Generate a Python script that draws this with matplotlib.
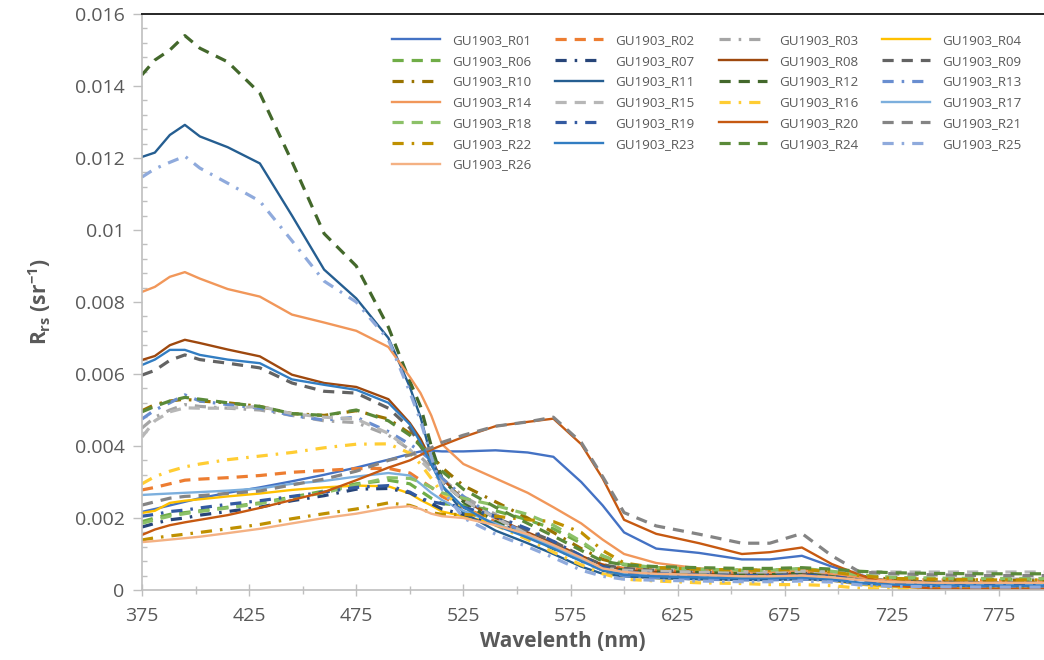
import numpy as np
import matplotlib
matplotlib.use("Agg")
from matplotlib import pyplot as plt
from matplotlib.ticker import FixedLocator, MultipleLocator, FuncFormatter

plt.rcParams['font.family'] = ['Open Sans', 'DejaVu Sans']
plt.rcParams['mathtext.fontset'] = 'custom'
plt.rcParams['mathtext.rm'] = 'Open Sans'
plt.rcParams['mathtext.bf'] = 'Open Sans:bold'

# wavelength grid (nm) and Rrs spectra in units of 1e-3 sr^-1
wl = [375, 381, 388, 395, 402, 415, 430, 445, 460, 475, 490, 500, 505, 510, 515, 525, 540,
      555, 567, 580, 590, 600, 615, 635, 655, 668, 683, 697, 710, 725, 745, 770, 796]

names = ['GU1903_R01', 'GU1903_R02', 'GU1903_R03', 'GU1903_R04', 'GU1903_R06',
         'GU1903_R07', 'GU1903_R08', 'GU1903_R09', 'GU1903_R10', 'GU1903_R11',
         'GU1903_R12', 'GU1903_R13', 'GU1903_R14', 'GU1903_R15', 'GU1903_R16',
         'GU1903_R17', 'GU1903_R18', 'GU1903_R19', 'GU1903_R20', 'GU1903_R21',
         'GU1903_R22', 'GU1903_R23', 'GU1903_R24', 'GU1903_R25', 'GU1903_R26']

r01 = [2.17, 2.25, 2.35, 2.45, 2.55, 2.70, 2.85, 3.02, 3.20, 3.40, 3.62, 3.78, 3.85, 3.87, 3.85, 3.85, 3.88,
       3.82, 3.70, 3.00, 2.35, 1.60, 1.15, 1.03, 0.85, 0.85, 0.95, 0.65, 0.42, 0.22, 0.20, 0.18, 0.18]
r02 = [2.78, 2.85, 2.95, 3.05, 3.08, 3.12, 3.18, 3.27, 3.32, 3.37, 3.38, 3.25, 3.05, 2.85, 2.60, 2.30, 1.90,
       1.55, 1.25, 0.90, 0.70, 0.60, 0.55, 0.52, 0.50, 0.50, 0.52, 0.45, 0.35, 0.30, 0.28, 0.27, 0.27]
r03 = [4.50, 4.80, 5.00, 5.15, 5.10, 5.05, 5.00, 4.85, 4.70, 4.65, 4.30, 3.90, 3.70, 3.40, 3.10, 2.60, 2.10,
       1.60, 1.25, 0.85, 0.60, 0.50, 0.45, 0.42, 0.40, 0.40, 0.42, 0.40, 0.35, 0.30, 0.30, 0.30, 0.30]
r04 = [2.14, 2.20, 2.42, 2.48, 2.52, 2.60, 2.68, 2.78, 2.85, 2.90, 2.88, 2.68, 2.50, 2.35, 2.18, 2.05, 1.85,
       1.50, 1.20, 0.85, 0.55, 0.40, 0.33, 0.30, 0.28, 0.28, 0.30, 0.26, 0.15, 0.08, 0.06, 0.05, 0.05]
r06 = [1.90, 2.00, 2.10, 2.15, 2.20, 2.30, 2.42, 2.58, 2.75, 2.95, 3.05, 2.95, 2.75, 2.55, 2.40, 2.35, 2.20,
       1.95, 1.70, 1.30, 0.95, 0.70, 0.60, 0.55, 0.52, 0.52, 0.58, 0.50, 0.40, 0.35, 0.32, 0.30, 0.30]
r07 = [1.75, 1.85, 1.95, 2.00, 2.08, 2.18, 2.30, 2.48, 2.62, 2.80, 2.82, 2.70, 2.55, 2.40, 2.25, 2.10, 1.85,
       1.55, 1.25, 0.85, 0.55, 0.45, 0.42, 0.38, 0.35, 0.35, 0.38, 0.32, 0.22, 0.15, 0.13, 0.12, 0.12]
r08 = [6.39, 6.50, 6.80, 6.95, 6.86, 6.68, 6.49, 5.98, 5.75, 5.64, 5.30, 4.64, 4.20, 3.60, 3.10, 2.50, 2.00,
       1.60, 1.30, 0.95, 0.70, 0.55, 0.50, 0.45, 0.42, 0.42, 0.45, 0.40, 0.30, 0.22, 0.20, 0.18, 0.18]
r09 = [5.97, 6.10, 6.38, 6.53, 6.40, 6.30, 6.17, 5.75, 5.52, 5.47, 5.05, 4.50, 4.00, 3.50, 3.00, 2.50, 2.00,
       1.65, 1.35, 0.95, 0.70, 0.60, 0.55, 0.50, 0.47, 0.47, 0.50, 0.45, 0.33, 0.25, 0.22, 0.20, 0.20]
r10 = [4.98, 5.15, 5.25, 5.30, 5.25, 5.20, 5.10, 4.90, 4.85, 4.98, 4.75, 4.35, 4.05, 3.75, 3.40, 2.90, 2.45,
       2.00, 1.60, 1.15, 0.85, 0.70, 0.62, 0.58, 0.55, 0.55, 0.58, 0.50, 0.38, 0.30, 0.28, 0.27, 0.25]
r11 = [12.03, 12.15, 12.64, 12.92, 12.60, 12.30, 11.85, 10.40, 8.90, 8.10, 7.00, 5.64, 4.80, 3.70, 2.90, 2.15, 1.65,
       1.30, 1.00, 0.65, 0.45, 0.38, 0.33, 0.30, 0.28, 0.28, 0.30, 0.27, 0.18, 0.14, 0.12, 0.10, 0.10]
r12 = [14.31, 14.72, 15.00, 15.40, 15.05, 14.67, 13.80, 11.90, 9.90, 9.00, 7.30, 5.80, 5.10, 4.00, 3.10, 2.45, 1.90,
       1.50, 1.15, 0.85, 0.65, 0.55, 0.50, 0.48, 0.45, 0.45, 0.48, 0.42, 0.30, 0.22, 0.20, 0.18, 0.18]
r13 = [4.75, 5.00, 5.20, 5.42, 5.25, 5.15, 5.05, 4.85, 4.72, 4.80, 4.40, 4.05, 3.85, 3.60, 3.10, 2.60, 2.00,
       1.55, 1.20, 0.80, 0.55, 0.40, 0.35, 0.30, 0.28, 0.28, 0.30, 0.27, 0.18, 0.12, 0.10, 0.10, 0.10]
r14 = [8.28, 8.42, 8.70, 8.83, 8.65, 8.36, 8.15, 7.65, 7.43, 7.20, 6.75, 5.92, 5.47, 4.85, 4.05, 3.50, 3.10,
       2.70, 2.30, 1.85, 1.40, 1.00, 0.75, 0.60, 0.52, 0.50, 0.55, 0.45, 0.35, 0.25, 0.18, 0.15, 0.15]
r15 = [4.25, 4.70, 4.95, 5.06, 5.05, 5.05, 5.10, 4.90, 4.80, 4.75, 4.35, 3.90, 3.60, 3.30, 3.00, 2.50, 2.00,
       1.55, 1.20, 0.85, 0.60, 0.55, 0.52, 0.50, 0.50, 0.50, 0.52, 0.50, 0.50, 0.50, 0.50, 0.50, 0.50]
r16 = [2.95, 3.15, 3.30, 3.42, 3.50, 3.62, 3.72, 3.82, 3.95, 4.05, 4.06, 3.80, 3.50, 3.10, 2.70, 2.30, 1.80,
       1.40, 1.05, 0.70, 0.45, 0.30, 0.25, 0.20, 0.18, 0.15, 0.15, 0.12, 0.05, 0.02, 0.02, 0.02, 0.02]
r17 = [2.64, 2.66, 2.68, 2.70, 2.72, 2.76, 2.82, 2.95, 3.03, 3.15, 3.25, 3.18, 2.95, 2.70, 2.50, 2.20, 1.85,
       1.50, 1.20, 0.85, 0.60, 0.48, 0.42, 0.40, 0.38, 0.38, 0.40, 0.36, 0.28, 0.20, 0.18, 0.17, 0.17]
r18 = [1.85, 1.95, 2.05, 2.12, 2.18, 2.28, 2.40, 2.55, 2.70, 2.92, 3.12, 3.10, 3.00, 2.85, 2.70, 2.55, 2.35,
       2.10, 1.80, 1.35, 0.95, 0.72, 0.62, 0.58, 0.55, 0.55, 0.60, 0.52, 0.42, 0.35, 0.33, 0.32, 0.32]
r19 = [2.05, 2.10, 2.18, 2.22, 2.28, 2.38, 2.48, 2.60, 2.72, 2.85, 2.90, 2.72, 2.55, 2.45, 2.40, 2.30, 2.05,
       1.70, 1.35, 0.95, 0.65, 0.50, 0.45, 0.42, 0.40, 0.40, 0.42, 0.38, 0.28, 0.20, 0.18, 0.17, 0.17]
r20 = [1.53, 1.68, 1.80, 1.88, 1.95, 2.08, 2.28, 2.50, 2.72, 3.05, 3.40, 3.60, 3.75, 3.90, 4.02, 4.25, 4.55,
       4.67, 4.76, 4.05, 3.10, 1.95, 1.56, 1.30, 1.00, 1.05, 1.18, 0.72, 0.42, 0.12, 0.04, 0.03, 0.03]
r21 = [2.36, 2.45, 2.55, 2.60, 2.62, 2.68, 2.75, 2.92, 3.08, 3.30, 3.60, 3.75, 3.85, 3.95, 4.10, 4.30, 4.55,
       4.67, 4.80, 4.10, 3.15, 2.15, 1.78, 1.55, 1.30, 1.30, 1.57, 0.95, 0.50, 0.45, 0.42, 0.40, 0.40]
r22 = [1.39, 1.45, 1.50, 1.55, 1.60, 1.70, 1.82, 1.98, 2.12, 2.25, 2.42, 2.35, 2.25, 2.15, 2.10, 2.10, 2.05,
       1.95, 1.90, 1.60, 1.10, 0.75, 0.62, 0.58, 0.55, 0.55, 0.58, 0.50, 0.40, 0.32, 0.30, 0.28, 0.28]
r23 = [6.25, 6.40, 6.67, 6.67, 6.53, 6.40, 6.30, 5.85, 5.70, 5.56, 5.20, 4.60, 4.10, 3.50, 2.90, 2.30, 1.80,
       1.45, 1.15, 0.80, 0.55, 0.42, 0.38, 0.35, 0.33, 0.33, 0.35, 0.30, 0.20, 0.15, 0.13, 0.12, 0.12]
r24 = [4.95, 5.10, 5.25, 5.35, 5.30, 5.20, 5.10, 4.90, 4.85, 5.00, 4.70, 4.30, 4.00, 3.70, 3.30, 2.80, 2.30,
       1.85, 1.50, 1.10, 0.80, 0.70, 0.65, 0.62, 0.60, 0.60, 0.62, 0.58, 0.52, 0.48, 0.46, 0.45, 0.45]
r25 = [11.47, 11.70, 11.88, 12.05, 11.72, 11.30, 10.80, 9.70, 8.58, 8.00, 6.95, 5.50, 4.70, 3.70, 2.80, 2.00, 1.55,
       1.20, 0.90, 0.55, 0.38, 0.30, 0.27, 0.25, 0.23, 0.23, 0.25, 0.22, 0.14, 0.10, 0.09, 0.08, 0.08]
r26 = [1.33, 1.36, 1.40, 1.44, 1.48, 1.58, 1.70, 1.85, 2.00, 2.12, 2.28, 2.33, 2.25, 2.12, 2.05, 2.00, 1.80,
       1.55, 1.25, 0.90, 0.60, 0.50, 0.45, 0.42, 0.38, 0.38, 0.40, 0.35, 0.28, 0.22, 0.20, 0.20, 0.20]

spectra = [r01, r02, r03, r04, r06, r07, r08, r09, r10, r11, r12, r13, r14, r15, r16,
           r17, r18, r19, r20, r21, r22, r23, r24, r25, r26]

# office palette; R05 is absent so its slot (#5B9BD5) is skipped
colors = ['#4472C4', '#ED7D31', '#A5A5A5', '#FFC000', '#70AD47',
          '#264478', '#9E480E', '#636363', '#997300', '#255E91', '#43682B',
          '#698ED0', '#F1975A', '#B7B7B7', '#FFCD33', '#7CAFDD', '#8CC168',
          '#335AA1', '#C65911', '#848484', '#BF9000', '#327DC2', '#5A8A39',
          '#8FAADC', '#F4B183']
dashes = [None, (3.5, 2.5), (3.5, 2.5, 0.8, 2.5)]

fig = plt.figure(figsize=(10.44, 6.6), dpi=100)
ax = fig.add_axes([142 / 1044, 70 / 660, 902 / 1044, 576 / 660])

handles = []
for i, (name, vals) in enumerate(zip(names, spectra)):
    y = np.array(vals) * 1e-3
    d = dashes[i % 3]
    if d is None:
        ln, = ax.plot(wl, y, color=colors[i], lw=1.7, label=name, solid_joinstyle='round')
    else:
        ln, = ax.plot(wl, y, color=colors[i], lw=2.3, label=name, dashes=d,
                      dash_capstyle='butt', dash_joinstyle='round')
    handles.append(ln)

ax.set_xlim(375, 796)
ax.set_ylim(0, 0.016)
ax.xaxis.set_major_locator(FixedLocator([375, 425, 475, 525, 575, 625, 675, 725, 775]))
ax.xaxis.set_minor_locator(FixedLocator([400, 450, 500, 550, 600, 650, 700, 750]))
ax.yaxis.set_major_locator(MultipleLocator(0.002))
ax.yaxis.set_minor_locator(MultipleLocator(0.0004))
ax.yaxis.set_major_formatter(FuncFormatter(lambda v, p: '0' if v == 0 else ('%.3f' % v).rstrip('0')))

grey = '#BFBFBF'
ax.spines['right'].set_visible(False)
ax.spines['left'].set_color(grey)
ax.spines['bottom'].set_color(grey)
ax.spines['left'].set_linewidth(1.2)
ax.spines['bottom'].set_linewidth(1.2)
ax.spines['top'].set_color('#262626')
ax.spines['top'].set_linewidth(1.4)

ax.tick_params(axis='x', which='major', direction='inout', length=9, width=1, color=grey,
               labelsize=14, labelcolor='#595959', pad=8)
ax.tick_params(axis='x', which='minor', direction='inout', length=6, width=1, color=grey)
ax.tick_params(axis='y', which='major', direction='out', length=6.5, width=1, color=grey,
               labelsize=14, labelcolor='#595959', pad=6)
ax.tick_params(axis='y', which='minor', direction='in', length=3.5, width=1, color=grey)

ax.set_xlabel('Wavelenth (nm)', fontsize=15, fontweight='bold', color='#595959')
ax.xaxis.set_label_coords((563 - 142) / 902, -0.072)
fig.text(40 / 1044, 1 - 302 / 660, r'R$_{\mathbf{rs}}$ (sr$^{\mathbf{-1}}$)', rotation=90,
         fontsize=15, fontweight='bold', color='#595959', ha='center', va='center')

# legend is filled column by column, so reorder to read across rows
ncol = 4
order = []
for c in range(ncol):
    order += list(range(c, len(handles), ncol))
leg = ax.legend([handles[k] for k in order], [names[k] for k in order], ncol=ncol,
                frameon=False, fontsize=9.6, handlelength=3.6, handletextpad=0.9,
                columnspacing=1.8, labelspacing=0.58, loc='upper left',
                bbox_to_anchor=((380 - 142) / 902, 1 - 8 / 576))
for t in leg.get_texts():
    t.set_color('#595959')

fig.savefig('out.png', dpi=100)
